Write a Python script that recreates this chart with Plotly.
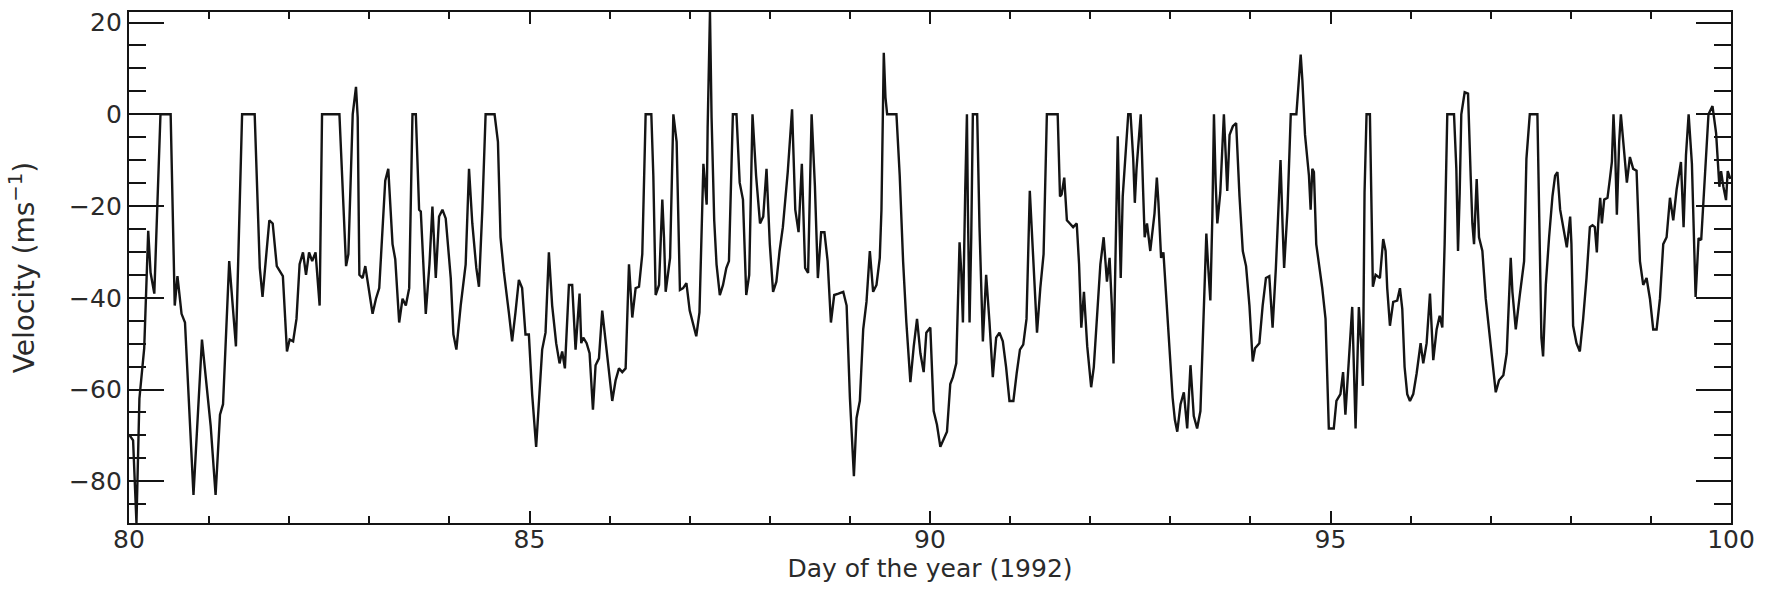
import plotly.graph_objects as go

# Hourly-ish radial wind velocity, days 80-100 of 1992
day = [
    80.000, 80.051, 80.093, 80.130, 80.190, 80.240, 80.269, 80.316,
    80.393, 80.520, 80.571, 80.605, 80.656, 80.699, 80.805, 80.911, 81.020, 81.081,
    81.136, 81.174, 81.251, 81.335, 81.412, 81.569, 81.633, 81.667, 81.752, 81.794,
    81.845, 81.921, 81.972, 82.006, 82.049, 82.091, 82.130, 82.172, 82.210, 82.248,
    82.287, 82.329, 82.380, 82.410,
    82.627, 82.710, 82.739, 82.793, 82.834, 82.855, 82.876, 82.917, 82.950, 83.041,
    83.083, 83.124, 83.199, 83.237, 83.290, 83.324, 83.373, 83.415, 83.456, 83.498,
    83.539, 83.581, 83.622, 83.643, 83.705, 83.751, 83.788, 83.809, 83.830, 83.871,
    83.913, 83.954, 84.017, 84.050, 84.087, 84.141, 84.203, 84.245, 84.286, 84.336,
    84.369, 84.411, 84.452, 84.564, 84.606,
    84.638, 84.679, 84.742, 84.783, 84.825, 84.867, 84.908, 84.950, 84.992, 85.033,
    85.083, 85.117, 85.158, 85.200, 85.242, 85.283, 85.333, 85.375, 85.408, 85.442,
    85.492, 85.533, 85.575, 85.625, 85.646, 85.671, 85.713, 85.750, 85.792, 85.825,
    85.867, 85.908, 85.971, 86.033, 86.075, 86.117, 86.158, 86.200, 86.242, 86.283,
    86.325, 86.367, 86.408, 86.450, 86.521, 86.546, 86.575, 86.617, 86.658, 86.679,
    86.700,
    86.755, 86.796, 86.837, 86.878, 86.918, 86.959, 87.000, 87.082, 87.122, 87.171,
    87.192, 87.212, 87.224, 87.253, 87.273, 87.306, 87.335, 87.376, 87.416, 87.457,
    87.490, 87.539, 87.584, 87.624, 87.665, 87.706, 87.743, 87.784, 87.829, 87.878,
    87.918, 87.959, 88.000, 88.041, 88.082, 88.122, 88.163, 88.224, 88.278, 88.318,
    88.359, 88.400, 88.441, 88.478, 88.522, 88.563, 88.600, 88.641, 88.682, 88.722,
    88.763, 88.804, 88.857,
    88.917, 88.959, 89.000, 89.050, 89.083, 89.124, 89.166, 89.207, 89.249, 89.290,
    89.332, 89.373, 89.394, 89.423, 89.444, 89.465, 89.581, 89.622, 89.664, 89.705,
    89.755, 89.797, 89.838, 89.880, 89.921, 89.954, 90.004, 90.046, 90.087, 90.129,
    90.170, 90.212, 90.253, 90.286, 90.328, 90.369, 90.390, 90.411, 90.440, 90.461,
    90.473, 90.494, 90.515, 90.535, 90.589, 90.618, 90.660, 90.701, 90.743, 90.784,
    90.826, 90.867, 90.909, 90.950, 90.992, 91.041,
    91.082, 91.123, 91.164, 91.205, 91.246, 91.266, 91.295, 91.336, 91.377, 91.418,
    91.459, 91.594, 91.623, 91.643, 91.676, 91.709, 91.746, 91.787, 91.832, 91.861,
    91.889, 91.922, 91.963, 92.012, 92.045, 92.086, 92.127, 92.168, 92.209, 92.242,
    92.270, 92.291, 92.320, 92.344, 92.365, 92.381, 92.406, 92.434, 92.475, 92.504,
    92.537, 92.557, 92.578, 92.611, 92.631, 92.660, 92.680, 92.709, 92.750, 92.803,
    92.832, 92.852, 92.885, 92.914, 92.947, 92.988, 93.029, 93.057,
    93.087, 93.128, 93.169, 93.211, 93.252, 93.293, 93.335, 93.376, 93.417, 93.450,
    93.471, 93.500, 93.525, 93.545, 93.566, 93.587, 93.624, 93.669, 93.690, 93.711,
    93.740, 93.781, 93.822, 93.864, 93.905, 93.946, 93.988, 94.029, 94.058, 94.112,
    94.153, 94.194, 94.236, 94.277, 94.318, 94.360, 94.376, 94.401, 94.421, 94.463,
    94.504, 94.574, 94.599, 94.628, 94.649, 94.682, 94.731, 94.752, 94.773, 94.793,
    94.822, 94.855, 94.897, 94.938, 94.979, 95.041, 95.074, 95.124, 95.157, 95.186,
    95.227, 95.271, 95.313, 95.354, 95.383, 95.404, 95.425, 95.450, 95.492, 95.508,
    95.529, 95.563, 95.617, 95.658, 95.688, 95.708, 95.742, 95.783, 95.833, 95.867,
    95.896, 95.925, 95.958, 95.992, 96.033, 96.075, 96.125, 96.158, 96.200, 96.242,
    96.283, 96.325, 96.363, 96.396, 96.425, 96.458, 96.542, 96.571, 96.592, 96.613,
    96.633, 96.675, 96.717, 96.750, 96.771, 96.792, 96.825, 96.854, 96.896, 96.938,
    96.979, 97.021, 97.063, 97.104, 97.158, 97.200, 97.229, 97.250, 97.271, 97.313,
    97.363, 97.417, 97.446, 97.488, 97.583, 97.604, 97.633, 97.654, 97.688, 97.729,
    97.771, 97.804, 97.833, 97.867, 97.908, 97.950, 97.992, 98.008, 98.029, 98.071,
    98.113, 98.154, 98.196, 98.238, 98.271, 98.300, 98.325, 98.342, 98.367, 98.388,
    98.417, 98.458, 98.488, 98.513, 98.533, 98.554, 98.575, 98.604, 98.625, 98.658,
    98.700, 98.738, 98.779, 98.821, 98.863, 98.904, 98.946, 98.988, 99.029, 99.071,
    99.113, 99.154, 99.196, 99.238, 99.279, 99.321, 99.375, 99.408, 99.438, 99.471,
    99.512, 99.558, 99.595, 99.628, 99.669, 99.719, 99.769, 99.814, 99.855, 99.876,
    99.905, 99.938, 99.959, 99.992,
]

velocity = [
    -69.8, -71.1, -89.1, -62.0, -51.0, -25.4, -34.5, -39.1,
    0.0, 0.0, -41.7, -35.3, -43.5, -45.4, -83.0, -49.1, -68.0, -83.0,
    -65.5, -63.2, -32.0, -50.6, 0.0, 0.0, -33.5, -39.8, -23.1, -23.8,
    -33.1, -35.3, -51.7, -49.1, -49.5, -44.6, -32.7, -30.1, -35.0, -30.1,
    -32.0, -30.1, -41.7, 0.0,
    0.0, -33.1, -30.5, 0.0, 6.0, -0.7, -35.0, -35.7, -33.1, -43.5,
    -40.2, -37.9, -14.5, -11.9, -28.3, -31.6, -45.4, -40.2, -41.7, -37.9,
    0.0, 0.0, -20.8, -21.2, -43.5, -32.7, -20.1, -28.3, -35.7, -22.3,
    -20.8, -22.7, -35.7, -48.0, -51.3, -41.7, -32.7, -11.9, -23.8, -33.5,
    -37.6, -20.8, 0.0, 0.0, -6.0,
    -26.8, -34.2, -43.2, -49.5, -43.2, -36.1, -37.9, -48.0, -48.0, -61.0,
    -72.5, -61.8, -51.3, -47.6, -30.1, -41.7, -49.9, -54.3, -51.7, -55.4,
    -37.2, -37.2, -51.3, -39.1, -49.9, -48.7, -49.9, -52.1, -64.4, -54.7,
    -53.2, -42.8, -52.8, -62.5, -58.0, -55.4, -56.2, -55.4, -32.7, -44.3,
    -37.9, -37.6, -30.5, 0.0, 0.0, -13.4, -39.4, -37.2, -18.6, -26.8,
    -38.7,
    -31.3, 0.0, -6.0, -38.3, -37.9, -36.8, -42.8, -48.4, -43.2, -10.8,
    -14.9, -19.7, -3.0, 22.3, -0.7, -23.1, -32.7, -39.4, -37.2, -33.5,
    -32.0, 0.0, 0.0, -14.9, -18.6, -39.4, -35.0, 0.0, -13.4, -23.8,
    -22.3, -11.9, -28.3, -38.7, -36.5, -29.8, -24.6, -12.6, 1.1, -20.8,
    -25.7, -10.8, -33.5, -34.6, 0.0, -15.6, -35.7, -25.7, -25.7, -32.0,
    -45.4, -39.4, -39.1,
    -38.7, -41.7, -61.8, -78.9, -66.2, -62.5, -46.9, -40.9, -29.8, -38.7,
    -37.2, -31.3, -20.8, 13.4, 3.7, 0.0, 0.0, -13.4, -32.0, -45.4,
    -58.4, -50.6, -44.6, -52.1, -56.2, -47.6, -46.5, -64.7, -67.7, -72.5,
    -70.7, -69.2, -58.8, -57.3, -54.3, -27.9, -34.2, -45.4, -16.4, 0.0,
    -20.8, -45.4, -26.8, 0.0, 0.0, -24.6, -49.5, -35.0, -45.4, -57.3,
    -48.7, -47.6, -49.5, -55.1, -62.5, -62.5,
    -56.5, -51.3, -50.2, -44.6, -16.7, -23.8, -35.0, -47.6, -37.9, -30.5,
    0.0, 0.0, -17.9, -17.5, -13.8, -23.1, -23.8, -24.6, -23.8, -32.7,
    -46.5, -38.7, -50.6, -59.5, -55.1, -43.2, -32.7, -26.8, -36.5, -31.3,
    -41.7, -54.3, -25.3, -4.8, -23.1, -35.7, -17.9, -9.7, 0.0, 0.0,
    -9.7, -19.3, -11.9, -4.5, 0.0, -16.4, -26.8, -23.8, -29.8, -21.6,
    -13.8, -19.3, -31.3, -30.1, -39.4, -50.6, -61.8, -66.6,
    -69.2, -63.2, -60.6, -68.5, -54.7, -65.8, -68.5, -64.7, -41.7, -26.0,
    -32.7, -40.6, -22.3, 0.0, -14.9, -23.8, -17.1, 0.0, -8.2, -16.7,
    -4.5, -2.6, -1.9, -17.9, -29.8, -33.1, -41.7, -53.9, -51.0, -49.9,
    -41.7, -35.7, -35.3, -46.5, -33.5, -16.4, -10.0, -23.8, -33.5, -20.8,
    0.0, 0.0, 6.7, 13.0, 7.4, -4.5, -13.4, -20.8, -11.9, -12.6,
    -28.3, -32.7, -37.9, -44.6, -68.5, -68.5, -62.5, -61.0, -56.2, -65.5,
    -54.3, -42.0, -68.5, -42.0, -50.2, -59.2, -17.1, 0.0, 0.0, -13.4,
    -37.6, -35.0, -35.7, -27.2, -29.8, -37.9, -46.1, -40.9, -40.6, -37.9,
    -42.4, -55.1, -61.0, -62.5, -61.0, -56.5, -49.9, -54.3, -49.9, -39.1,
    -53.6, -46.9, -43.9, -46.5, -28.3, 0.0, 0.0, -11.9, -29.8, -17.1,
    0.0, 4.8, 4.5, -13.4, -23.8, -28.3, -14.1, -26.8, -29.8, -40.2,
    -46.9, -55.1, -60.6, -58.0, -56.9, -52.1, -39.4, -31.3, -38.7, -46.9,
    -39.4, -32.0, -9.7, 0.0, 0.0, -24.6, -48.7, -52.8, -37.2, -26.8,
    -17.9, -13.4, -12.6, -20.8, -25.3, -29.0, -22.3, -28.3, -46.1, -49.9,
    -51.7, -44.6, -35.7, -24.6, -24.2, -24.6, -30.1, -23.8, -18.2, -23.8,
    -18.6, -18.2, -14.1, -10.4, 0.0, -8.2, -21.9, -6.0, 0.0, -7.4,
    -14.9, -9.3, -11.9, -12.3, -32.0, -37.2, -35.7, -40.2, -46.9, -46.9,
    -40.2, -28.3, -26.8, -18.2, -23.1, -16.4, -10.4, -24.6, -8.9, 0.0,
    -10.8, -39.8, -27.0, -27.4, -14.1, 0.0, 1.8, -4.1, -15.8, -12.4,
    -15.8, -18.7, -12.4, -14.1,
]

x_ticks = [80, 85, 90, 95, 100]
y_ticks = [-80, -60, -40, -20, 0, 20]

ink = "#141414"
font_family = "DejaVu Sans, Verdana, sans-serif"

fig = go.Figure(
    go.Scatter(
        x=day,
        y=velocity,
        mode="lines",
        line=dict(color=ink, width=2.4),
        hoverinfo="x+y",
    )
)

fig.update_layout(
    width=1777,
    height=604,
    margin=dict(l=129, r=46, t=8, b=81),
    paper_bgcolor="white",
    plot_bgcolor="white",
    showlegend=False,
    font=dict(family=font_family, size=24, color="#2a2a2a"),
)

fig.update_xaxes(
    range=[x_ticks[0], x_ticks[-1]],
    tickmode="array",
    tickvals=x_ticks,
    ticktext=[str(t) for t in x_ticks],
    ticks="inside",
    ticklen=12,
    tickwidth=2,
    tickcolor=ink,
    showline=True,
    linewidth=2.4,
    linecolor=ink,
    mirror="allticks",
    showgrid=False,
    zeroline=False,
    minor=dict(tick0=80, dtick=1, ticks="inside", ticklen=7, tickwidth=1.6,
               tickcolor=ink, showgrid=False),
    tickfont=dict(size=25),
    ticklabelstandoff=-7,
    title=dict(text="Day of the year (1992)", font=dict(size=25), standoff=0),
)

fig.update_yaxes(
    range=[min(velocity), max(velocity)],
    tickmode="array",
    tickvals=y_ticks,
    ticks="inside",
    ticklen=35,
    tickwidth=2,
    tickcolor=ink,
    showline=True,
    linewidth=2.4,
    linecolor=ink,
    mirror="allticks",
    showgrid=False,
    zeroline=False,
    minor=dict(tick0=0, dtick=5, ticks="inside", ticklen=17, tickwidth=1.6,
               tickcolor=ink, showgrid=False),
    tickfont=dict(size=25),
    title=dict(text="Velocity (ms<sup>−1</sup>)", font=dict(size=28), standoff=26),
)

fig.write_html("out.html")
